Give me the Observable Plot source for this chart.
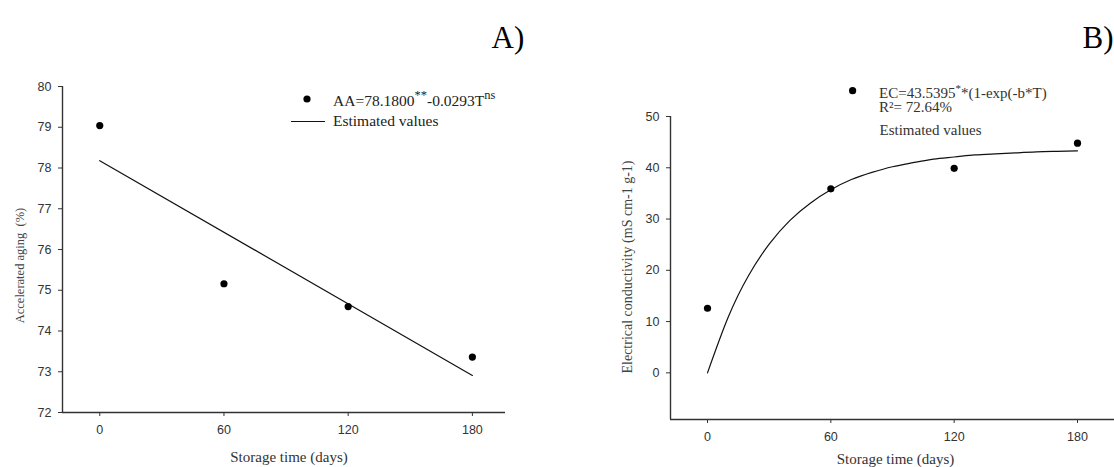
<!DOCTYPE html>
<html>
<head>
<meta charset="utf-8">
<script src="https://cdn.jsdelivr.net/npm/d3@7"></script>
<script src="https://cdn.jsdelivr.net/npm/@observablehq/plot@0.6"></script>
<style>
  body { margin: 0; background: #fff; }
  #wrap { position: relative; width: 1114px; height: 467px; overflow: hidden; background: #fff; }
  #panelA, #panelB { position: absolute; top: 0; }
  #panelA { left: 0; }
  #panelB { left: 557px; }
</style>
</head>
<body>
<div id="wrap"><div id="panelA"></div><div id="panelB"></div></div>
<script>
// ---- data ----
const storageDays = [0, 60, 120, 180];
const agingObserved = [79.04, 75.16, 74.60, 73.36];
const agingLineDays = [0, 180];
const agingEstimated = [78.18, 72.91];

const ecObserved = [12.6, 35.9, 39.9, 44.8];
const ecCurveDays = [0, 10, 20, 30, 40, 50, 60, 70, 80, 90, 100, 110, 120, 130, 140, 150, 160, 170, 180];
const ecEstimated = [0, 10.8, 19.0, 25.1, 29.7, 33.1, 35.7, 37.7, 39.1, 40.2, 41.0, 41.7, 42.1, 42.5, 42.7, 42.9, 43.1, 43.2, 43.3];

const dayTicks = [0, 60, 120, 180];
const agingTicks = [72, 73, 74, 75, 76, 77, 78, 79, 80];
const ecTicks = [0, 10, 20, 30, 40, 50];

const panelTitles = ["A)", "B)"];
const xLabel = "Storage time (days)";
const agingLabel = "Accelerated aging  (%)";
const ecLabel = "Electrical conductivity (mS cm-1 g-1)";

// ---- tables ----
const agingPts = storageDays.map((d, i) => ({day: d, value: agingObserved[i]}));
const agingFit = agingLineDays.map((d, i) => ({day: d, value: agingEstimated[i]}));
const ecPts = storageDays.map((d, i) => ({day: d, value: ecObserved[i]}));
const ecFit = ecCurveDays.map((d, i) => ({day: d, value: ecEstimated[i]}));

const SERIF = "'Liberation Serif', 'Times New Roman', serif";
const SANS = "'Liberation Sans', Arial, sans-serif";
const AXIS = "#333";

// ---- Panel A ----
const plotA = Plot.plot({
  width: 557, height: 467,
  marginLeft: 62, marginRight: 52, marginTop: 86, marginBottom: 55,
  style: {fontFamily: SANS, background: "transparent", overflow: "visible"},
  x: {domain: [-18, 196]},
  y: {domain: [72, 80]},
  marks: [
    Plot.ruleX([-18], {stroke: AXIS, strokeWidth: 1.4}),
    Plot.ruleY([72], {stroke: AXIS, strokeWidth: 1.4}),
    Plot.axisY({ticks: agingTicks, tickSize: 4, tickPadding: 7, fontSize: 12.5, fill: AXIS, stroke: AXIS, label: null}),
    Plot.axisX({ticks: dayTicks, tickSize: 4, tickPadding: 9, fontSize: 12.5, fill: AXIS, stroke: AXIS, label: null}),
    Plot.line(agingFit, {x: "day", y: "value", stroke: "#111", strokeWidth: 1.2}),
    Plot.dot(agingPts, {x: "day", y: "value", r: 3.6, fill: "#000", stroke: "none"}),
    Plot.text([xLabel], {frameAnchor: "bottom", textAnchor: "middle", dx: 5, dy: 49, fontFamily: SERIF, fontSize: 15, fill: "#333"}),
    Plot.text([agingLabel], {frameAnchor: "left", textAnchor: "middle", dx: -43, dy: 16, rotate: -90, fontFamily: SERIF, fontSize: 12.5, fill: "#444"}),
    Plot.text([panelTitles[0]], {frameAnchor: "top-right", textAnchor: "start", dx: -14, dy: -61, fontFamily: SERIF, fontSize: 31, fill: "#000"})
  ]
});
document.getElementById("panelA").appendChild(plotA);

// legend A
{
  const svg = d3.select(plotA);
  const g = svg.append("g").attr("font-family", SERIF).attr("fill", "#222").attr("text-anchor", "start");
  g.append("circle").attr("cx", 307).attr("cy", 99).attr("r", 3.6).attr("fill", "#000");
  const t = g.append("text").attr("x", 333).attr("y", 106).attr("font-size", 15.5);
  t.append("tspan").text("AA=78.1800");
  t.append("tspan").attr("dy", -7).attr("font-size", 12.5).text("**");
  t.append("tspan").attr("dy", 7).text("-0.0293T");
  t.append("tspan").attr("dy", -7).attr("font-size", 12.5).text("ns");
  g.append("line").attr("x1", 291).attr("x2", 325).attr("y1", 121.5).attr("y2", 121.5)
    .attr("stroke", "#111").attr("stroke-width", 1.2);
  g.append("text").attr("x", 333).attr("y", 126).attr("font-size", 15.5).text("Estimated values");
}

// ---- Panel B ----
const plotB = Plot.plot({
  width: 557, height: 467,
  marginLeft: 113, marginRight: 0, marginTop: 116, marginBottom: 48,
  style: {fontFamily: SANS, background: "transparent", overflow: "visible"},
  x: {domain: [-18, 198]},
  y: {domain: [-9.1, 50]},
  marks: [
    Plot.ruleX([-18], {stroke: AXIS, strokeWidth: 1.4}),
    Plot.ruleY([-9.1], {stroke: AXIS, strokeWidth: 1.4}),
    Plot.axisY({ticks: ecTicks, tickSize: 4, tickPadding: 7, fontSize: 12.5, fill: AXIS, stroke: AXIS, label: null}),
    Plot.axisX({ticks: dayTicks, tickSize: 4, tickPadding: 9, fontSize: 12.5, fill: AXIS, stroke: AXIS, label: null}),
    Plot.line(ecFit, {x: "day", y: "value", curve: "natural", stroke: "#111", strokeWidth: 1.2}),
    Plot.dot(ecPts, {x: "day", y: "value", r: 3.6, fill: "#000", stroke: "none"}),
    Plot.text([xLabel], {frameAnchor: "bottom", textAnchor: "middle", dx: 3, dy: 44, fontFamily: SERIF, fontSize: 15, fill: "#333"}),
    Plot.text([ecLabel], {frameAnchor: "left", textAnchor: "middle", dx: -43, dy: -1, rotate: -90, fontFamily: SERIF, fontSize: 14, fill: "#444"}),
    Plot.text([panelTitles[1]], {frameAnchor: "top-right", textAnchor: "start", dx: -32, dy: -91, fontFamily: SERIF, fontSize: 31, fill: "#000"})
  ]
});
document.getElementById("panelB").appendChild(plotB);

// legend B (coordinates inside panel B's svg)
{
  const svg = d3.select(plotB);
  const g = svg.append("g").attr("font-family", SERIF).attr("fill", "#333").attr("text-anchor", "start");
  g.append("circle").attr("cx", 295.6).attr("cy", 90.7).attr("r", 3.6).attr("fill", "#000");
  const t = g.append("text").attr("x", 322).attr("y", 97.5).attr("font-size", 15);
  t.append("tspan").text("EC=43.5395");
  t.append("tspan").attr("dy", -6).attr("font-size", 11).text("*");
  t.append("tspan").attr("dy", 6).text("*(1-exp(-b*T)");
  g.append("text").attr("x", 322).attr("y", 112).attr("font-size", 15).text("R²= 72.64%");
  g.append("text").attr("x", 322.5).attr("y", 135).attr("font-size", 15).text("Estimated values");
}
</script>
</body>
</html>
